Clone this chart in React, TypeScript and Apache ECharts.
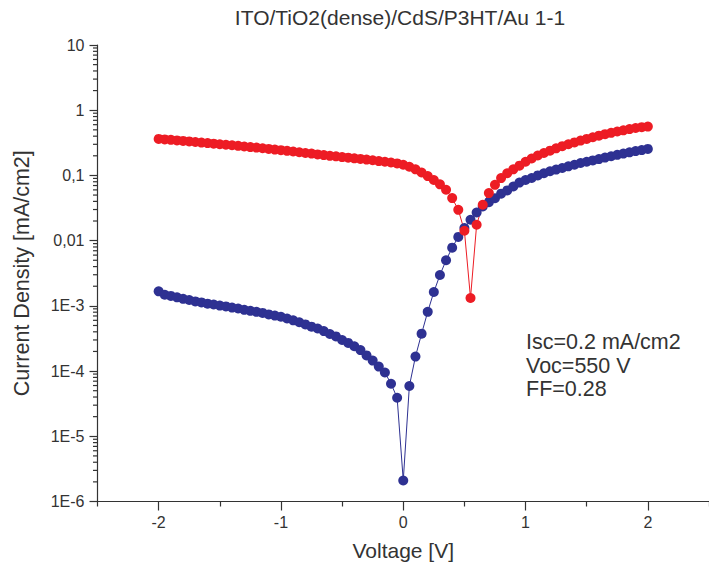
import React, { useEffect, useRef } from "react";
import * as echarts from "echarts";

const voltage = [
  -2.0, -1.95, -1.9, -1.85, -1.8, -1.75, -1.7, -1.65, -1.6, -1.55,
  -1.5, -1.45, -1.4, -1.35, -1.3, -1.25, -1.2, -1.15, -1.1, -1.05,
  -1.0, -0.95, -0.9, -0.85, -0.8, -0.75, -0.7, -0.65, -0.6, -0.55,
  -0.5, -0.45, -0.4, -0.35, -0.3, -0.25, -0.2, -0.15, -0.1, -0.05,
  0.0, 0.05, 0.1, 0.15, 0.2, 0.25, 0.3, 0.35, 0.4, 0.45,
  0.5, 0.55, 0.6, 0.65, 0.7, 0.75, 0.8, 0.85, 0.9, 0.95,
  1.0, 1.05, 1.1, 1.15, 1.2, 1.25, 1.3, 1.35, 1.4, 1.45,
  1.5, 1.55, 1.6, 1.65, 1.7, 1.75, 1.8, 1.85, 1.9, 1.95, 2.0,
];

// dark current density (mA/cm2)
const darkJ = [
  1.67e-3, 1.48e-3, 1.42e-3, 1.35e-3, 1.28e-3, 1.23e-3, 1.17e-3, 1.13e-3, 1.08e-3, 1.05e-3,
  1.01e-3, 9.8e-4, 9.4e-4, 9.1e-4, 8.7e-4, 8.4e-4, 8.1e-4, 7.8e-4, 7.4e-4, 7.1e-4,
  6.8e-4, 6.4e-4, 6.0e-4, 5.6e-4, 5.2e-4, 4.8e-4, 4.5e-4, 4.1e-4, 3.7e-4, 3.4e-4,
  3.0e-4, 2.7e-4, 2.4e-4, 2.1e-4, 1.74e-4, 1.45e-4, 1.17e-4, 9.5e-5, 6.4e-5, 3.9e-5,
  2.1e-6, 5.9e-5, 1.67e-4, 3.75e-4, 8.1e-4, 1.63e-3, 2.97e-3, 5.0e-3, 7.8e-3, 0.0114,
  0.0156, 0.0209, 0.027, 0.0334, 0.0389, 0.0447, 0.0525, 0.0589, 0.0676, 0.0776,
  0.0851, 0.0912, 0.1, 0.108, 0.116, 0.123, 0.13, 0.138, 0.146, 0.155,
  0.162, 0.17, 0.178, 0.188, 0.197, 0.207, 0.216, 0.226, 0.236, 0.245, 0.255,
];

// illuminated current density (mA/cm2)
const lightJ = [
  0.363, 0.357, 0.351, 0.344, 0.338, 0.332, 0.326, 0.319, 0.313, 0.307,
  0.301, 0.295, 0.29, 0.284, 0.278, 0.272, 0.267, 0.261, 0.255, 0.249,
  0.244, 0.238, 0.233, 0.227, 0.221, 0.216, 0.21, 0.205, 0.2, 0.196,
  0.191, 0.187, 0.183, 0.179, 0.175, 0.171, 0.166, 0.162, 0.158, 0.153,
  0.146, 0.136, 0.124, 0.111, 0.0977, 0.0851, 0.0731, 0.0603, 0.0449, 0.0297,
  0.0142, 0.00132, 0.0175, 0.0355, 0.0536, 0.0718, 0.091, 0.108, 0.124, 0.141,
  0.162, 0.182, 0.202, 0.221, 0.24, 0.26, 0.281, 0.301, 0.321, 0.342,
  0.363, 0.385, 0.407, 0.429, 0.45, 0.471, 0.492, 0.513, 0.533, 0.55, 0.561,
];

const yTickValues = [1e-6, 1e-5, 1e-4, 1e-3, 1e-2, 1e-1, 1, 10];
const yTickLabels = ["1E-6", "1E-5", "1E-4", "1E-3", "0,01", "0,1", "1", "10"];
const xMajorTicks = [-2, -1, 0, 1, 2];
const xMinorTicks = [-2.5, -1.5, -0.5, 0.5, 1.5, 2.5];
const minorMantissas = [2, 3, 4, 5, 6, 7, 8, 9];
const minorDecades = [1e-6, 1e-5, 1e-4, 1e-3, 1e-2, 1e-1, 1];

const titleText = "ITO/TiO2(dense)/CdS/P3HT/Au 1-1";
const xName = "Voltage [V]";
const yName = "Current Density [mA/cm2]";
const notes = ["Isc=0.2 mA/cm2", "Voc=550 V", "FF=0.28"];

const FONT = "'Liberation Sans', Arial, Helvetica, sans-serif";
const TEXT = "#333333";
const RED = "#ed1c24";
const BLUE = "#2e3192";

export default function App() {
  const ref = useRef<HTMLDivElement>(null);

  useEffect(() => {
    if (!ref.current) return;
    const chart = echarts.init(ref.current, null, { renderer: "svg" });

    const yMinor: number[][] = [];
    minorDecades.forEach((d) =>
      minorMantissas.forEach((m) => yMinor.push([-2.5, m * d]))
    );

    const fmtY = (v: number) => {
      for (let i = 0; i < yTickValues.length; i++) {
        if (Math.abs(Math.log10(v) - Math.log10(yTickValues[i])) < 1e-6)
          return yTickLabels[i];
      }
      return "";
    };

    chart.setOption({
      animation: false,
      backgroundColor: "#ffffff",
      grid: { left: 97.5, right: -2, top: 45, bottom: 75.5, containLabel: false },
      xAxis: [
        {
          type: "value",
          min: -2.5,
          max: 2.5,
          position: "bottom",
          name: xName,
          nameLocation: "middle",
          nameGap: 38,
          nameTextStyle: { fontSize: 21, color: TEXT, fontFamily: FONT },
          axisLine: { show: true, onZero: false, lineStyle: { color: TEXT, width: 1.2 } },
          axisTick: {
            show: true,
            inside: false,
            length: 9,
            customValues: xMajorTicks,
            lineStyle: { color: TEXT, width: 1.2 },
          },
          axisLabel: {
            show: true,
            customValues: xMajorTicks,
            margin: 13,
            fontSize: 16,
            color: TEXT,
            fontFamily: FONT,
          },
          splitLine: { show: false },
        },
        {
          type: "value",
          min: -2.5,
          max: 2.5,
          position: "bottom",
          axisLine: { show: false },
          axisTick: {
            show: true,
            inside: false,
            length: 5,
            customValues: xMinorTicks,
            lineStyle: { color: TEXT, width: 1.2 },
          },
          axisLabel: { show: false },
          splitLine: { show: false },
        },
      ],
      yAxis: [
        {
          type: "log",
          logBase: 10,
          min: 1e-6,
          max: 10,
          splitNumber: 7,
          name: yName,
          nameLocation: "middle",
          nameGap: 65,
          nameTextStyle: { fontSize: 21.5, color: TEXT, fontFamily: FONT },
          axisLine: { show: true, onZero: false, lineStyle: { color: TEXT, width: 1.2 } },
          axisTick: { show: true, inside: false, length: 8, lineStyle: { color: TEXT, width: 1.2 } },
          axisLabel: {
            show: true,
            margin: 13,
            fontSize: 16,
            color: TEXT,
            fontFamily: FONT,
            formatter: fmtY,
          },
          minorTick: { show: false },
          splitLine: { show: false },
        },
      ],
      graphic: [
        {
          type: "text",
          x: 400,
          y: 17,
          style: {
            text: titleText,
            align: "center",
            verticalAlign: "middle",
            fontSize: 21,
            fontFamily: FONT,
            fill: TEXT,
          },
        },
        ...notes.map((t, i) => ({
          type: "text",
          x: 526,
          y: 342 + i * 23.5,
          style: {
            text: t,
            align: "left",
            verticalAlign: "middle",
            fontSize: 21.5,
            fontFamily: FONT,
            fill: TEXT,
          },
        })),
      ],
      series: [
        {
          type: "custom",
          xAxisIndex: 0,
          yAxisIndex: 0,
          silent: true,
          clip: false,
          data: yMinor,
          renderItem: (_p: any, api: any) => {
            const pt = api.coord([api.value(0), api.value(1)]);
            return {
              type: "line",
              shape: { x1: pt[0] - 4.5, y1: pt[1], x2: pt[0], y2: pt[1] },
              style: { stroke: TEXT, lineWidth: 1.2 },
            };
          },
        },
        {
          name: "dark",
          type: "line",
          xAxisIndex: 0,
          yAxisIndex: 0,
          data: voltage.map((v, i) => [v, darkJ[i]]),
          symbol: "circle",
          symbolSize: 10,
          showSymbol: true,
          lineStyle: { color: BLUE, width: 1 },
          itemStyle: { color: BLUE },
          clip: false,
        },
        {
          name: "light",
          type: "line",
          xAxisIndex: 0,
          yAxisIndex: 0,
          data: voltage.map((v, i) => [v, lightJ[i]]),
          symbol: "circle",
          symbolSize: 10,
          showSymbol: true,
          lineStyle: { color: RED, width: 1 },
          itemStyle: { color: RED },
          clip: false,
        },
      ],
    });

    return () => chart.dispose();
  }, []);

  return (
    <div
      ref={ref}
      style={{ position: "fixed", left: 0, top: 0, width: 709, height: 577 }}
    />
  );
}
